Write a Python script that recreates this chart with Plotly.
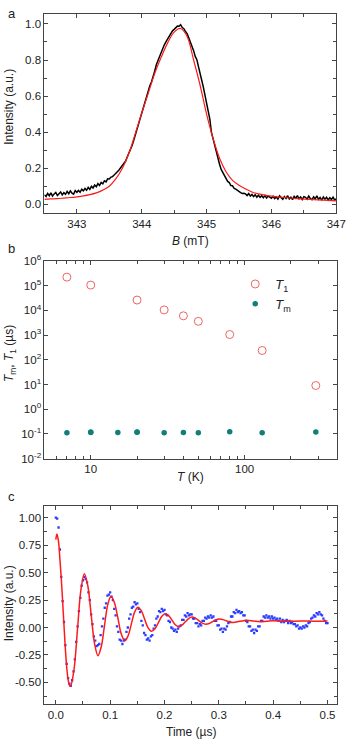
import plotly.graph_objects as go

# ---------------- Panel a: EPR spectrum ----------------
field_start = 342.5
field_step = 0.025
epr_signal = [
    0.052, 0.043, 0.060, 0.047, 0.063, 0.045, 0.057, 0.065, 0.048, 0.060, 0.068,
    0.052, 0.064, 0.055, 0.071, 0.058, 0.074, 0.061, 0.056, 0.076, 0.066,
    0.076, 0.066, 0.083, 0.074, 0.087, 0.077, 0.093, 0.082, 0.099, 0.090,
    0.106, 0.097, 0.114, 0.104, 0.121, 0.113, 0.130, 0.124, 0.141, 0.140,
    0.150, 0.153, 0.162, 0.170, 0.180, 0.190, 0.202, 0.212, 0.227, 0.238,
    0.260, 0.280, 0.302, 0.324, 0.352, 0.383, 0.412, 0.438, 0.468, 0.498,
    0.532, 0.558, 0.597, 0.618, 0.657, 0.678, 0.717, 0.738, 0.774, 0.798,
    0.822, 0.843, 0.867, 0.886, 0.902, 0.918, 0.937, 0.946, 0.962, 0.970,
    0.980, 0.988, 0.987, 0.996, 0.980, 0.974, 0.958, 0.947, 0.923, 0.902,
    0.873, 0.852, 0.820, 0.802, 0.763, 0.732, 0.688, 0.650, 0.608, 0.567,
    0.518, 0.472, 0.398, 0.362, 0.318, 0.282, 0.248, 0.222, 0.193, 0.177,
    0.158, 0.142, 0.126, 0.120, 0.103, 0.102, 0.088, 0.084, 0.076, 0.072,
    0.064, 0.060, 0.061, 0.057, 0.048, 0.059, 0.045, 0.054, 0.042, 0.052,
    0.039, 0.050, 0.038, 0.047, 0.036, 0.048, 0.034, 0.045, 0.037, 0.033,
    0.044, 0.031, 0.040, 0.028, 0.046, 0.034, 0.027, 0.042, 0.032, 0.047,
    0.029, 0.039, 0.025, 0.043, 0.033, 0.048, 0.030, 0.040, 0.026, 0.042,
    0.038, 0.028, 0.045, 0.031, 0.025, 0.041, 0.029, 0.047, 0.027, 0.037,
    0.022, 0.040, 0.028, 0.038, 0.024, 0.036, 0.026, 0.039, 0.023, 0.030,
]
fit_field = [342.5, 342.6, 342.7, 342.8, 342.9, 343.0, 343.1, 343.2, 343.3, 343.4,
             343.5, 343.6, 343.7, 343.8, 343.9, 344.0, 344.1, 344.2, 344.3, 344.4,
             344.5, 344.6, 344.7, 344.8, 344.9, 345.0, 345.1, 345.2, 345.3, 345.4,
             345.5, 345.6, 345.7, 345.8, 345.9, 346.0, 346.2, 346.4, 346.6, 346.8, 347.0]
fit_signal = [0.027, 0.029, 0.031, 0.034, 0.037, 0.041, 0.046, 0.053, 0.063, 0.078,
              0.100, 0.140, 0.198, 0.280, 0.390, 0.505, 0.615, 0.725, 0.815, 0.895,
              0.955, 0.975, 0.930, 0.800, 0.660, 0.500, 0.365, 0.255, 0.180, 0.132,
              0.105, 0.085, 0.068, 0.057, 0.050, 0.045, 0.037, 0.031, 0.026, 0.022, 0.018]

# ---------------- Panel b: relaxation times ----------------
temp_T1 = [7, 10, 20, 30, 40, 50, 80, 130, 290]
T1_us = [2.2e5, 1.05e5, 2.6e4, 1.04e4, 6.0e3, 3.6e3, 1.05e3, 238, 9.1]
temp_Tm = [7, 10, 10, 15, 20, 20, 30, 40, 50, 80, 130, 290]
Tm_us = [0.113, 0.115, 0.120, 0.114, 0.116, 0.120, 0.112, 0.114, 0.112, 0.122, 0.111, 0.120]
b_ytick_vals = [1e-2, 1e-1, 1e0, 1e1, 1e2, 1e3, 1e4, 1e5, 1e6]
b_ytick_text = ["10<sup>-2</sup>", "10<sup>-1</sup>", "10<sup>0</sup>", "10<sup>1</sup>",
                "10<sup>2</sup>", "10<sup>3</sup>", "10<sup>4</sup>", "10<sup>5</sup>",
                "10<sup>6</sup>"]
b_xtick_vals = [10, 100]
b_xtick_text = ["10", "100"]
b_xminor_vals = [5, 6, 7, 8, 9, 20, 30, 40, 50, 60, 70, 80, 90, 200, 300, 400]

# ---------------- Panel c: Rabi oscillation ----------------
time_start = 0.0
time_step = 0.0025
echo_signal = [
    1.00, 0.99, 0.91, 0.71, 0.46, 0.24, 0.05, -0.16, -0.33, -0.46,
    -0.51, -0.53, -0.48, -0.40, -0.29, -0.13, 0.01, 0.15, 0.27, 0.38,
    0.43, 0.46, 0.44, 0.41, 0.32, 0.25, 0.12, 0.03, -0.08, -0.12,
    -0.17, -0.16, -0.15, -0.07, 0.01, 0.08, 0.18, 0.22, 0.29, 0.30,
    0.32, 0.28, 0.25, 0.17, 0.11, 0.01, -0.04, -0.11, -0.12, -0.15,
    -0.12, -0.11, -0.04, 0.00, 0.08, 0.12, 0.18, 0.19, 0.23, 0.21,
    0.22, 0.17, 0.14, 0.06, 0.02, -0.05, -0.07, -0.11, -0.10, -0.12,
    -0.08, -0.07, -0.01, 0.02, 0.08, 0.10, 0.15, 0.14, 0.17, 0.15,
    0.16, 0.12, 0.11, 0.06, 0.05, 0.00, -0.01, -0.03, -0.02, -0.04,
    -0.01, 0.01, 0.02, 0.07, 0.07, 0.11, 0.10, 0.13, 0.11, 0.12,
    0.12, 0.08, 0.08, 0.04, 0.04, 0.01, 0.03, 0.02, 0.06, 0.06,
    0.09, 0.08, 0.10, 0.09, 0.11, 0.09, 0.10, 0.06, 0.06, 0.02,
    0.02, -0.02, -0.01, -0.04, -0.01, -0.02, 0.01, 0.04, 0.05, 0.10,
    0.10, 0.14, 0.13, 0.16, 0.14, 0.15, 0.13, 0.14, 0.11, 0.11,
    0.06, 0.05, 0.01, 0.01, -0.03, -0.02, -0.05, -0.02, -0.03, 0.01,
    0.01, 0.06, 0.06, 0.10, 0.09, 0.11, 0.09, 0.10, 0.08, 0.10,
    0.08, 0.09, 0.07, 0.08, 0.06, 0.08, 0.05, 0.07, 0.05, 0.06,
    0.07, 0.04, 0.06, 0.04, 0.05, 0.03, 0.03, 0.01, 0.02, -0.01,
    0.00, -0.01, 0.01, 0.00, 0.02, 0.01, 0.04, 0.05, 0.08, 0.09,
    0.11, 0.10, 0.13, 0.12, 0.14, 0.12, 0.11, 0.08, 0.06, 0.04,
    0.04,
]
fit_time = [0.0, 0.002, 0.005, 0.0075, 0.010, 0.0125, 0.015, 0.0175, 0.020, 0.0225,
            0.025, 0.027, 0.0334, 0.0398, 0.0461, 0.0525, 0.0588, 0.065, 0.0713, 0.0775,
            0.0835, 0.0895, 0.0955, 0.1015, 0.1079, 0.1143, 0.1206, 0.127, 0.133, 0.139,
            0.145, 0.151, 0.1573, 0.1635, 0.1698, 0.176, 0.1824, 0.1888, 0.1951, 0.2015,
            0.2076, 0.2138, 0.2199, 0.226, 0.2321, 0.2383, 0.2444, 0.2505, 0.2569, 0.2633,
            0.2696, 0.276, 0.2823, 0.2885, 0.2948, 0.301, 0.3073, 0.3135, 0.3198, 0.326,
            0.3385, 0.351, 0.3635, 0.376, 0.388, 0.40, 0.425, 0.45, 0.475, 0.50]
fit_echo = [0.80, 0.85, 0.78, 0.62, 0.45, 0.24, 0.02, -0.19, -0.36, -0.47,
            -0.525, -0.535, -0.385, -0.02, 0.34, 0.49, 0.38, 0.117, -0.147, -0.256,
            -0.177, 0.015, 0.206, 0.285, 0.226, 0.083, -0.061, -0.12, -0.075, 0.033,
            0.140, 0.185, 0.153, 0.075, -0.003, -0.035, -0.012, 0.045, 0.102, 0.125,
            0.108, 0.067, 0.025, 0.008, 0.021, 0.052, 0.082, 0.095, 0.085, 0.063,
            0.040, 0.030, 0.037, 0.054, 0.070, 0.077, 0.072, 0.062, 0.051, 0.046,
            0.056, 0.066, 0.059, 0.052, 0.057, 0.062, 0.056, 0.060, 0.058, 0.060]
c_ytick_vals = [-0.5, -0.25, 0.0, 0.25, 0.5, 0.75, 1.0]
c_ytick_text = ["-0.50", "-0.25", "0.00", "0.25", "0.50", "0.75", "1.00"]

# ---------------- figure ----------------
W, H = 357, 747
FONT = "Liberation Sans, Arial, sans-serif"
AXCOL = "#444444"


def px_x(p):
    return p / W


def px_y(p):
    return 1 - p / H


fig = go.Figure()

fig.add_trace(go.Scatter(x0=field_start, dx=field_step, y=epr_signal, mode="lines",
                         line=dict(color="black", width=1.5), showlegend=False,
                         xaxis="x", yaxis="y"))
fig.add_trace(go.Scatter(x=fit_field, y=fit_signal, mode="lines", line_shape="spline",
                         line=dict(color="#ff1a1a", width=1.2), showlegend=False,
                         xaxis="x", yaxis="y"))

fig.add_trace(go.Scatter(x=temp_T1, y=T1_us, mode="markers", name="<i>T</i><sub>1</sub>",
                         marker=dict(symbol="circle-open", size=8, color="#f06464",
                                     line=dict(width=1)),
                         xaxis="x2", yaxis="y2"))
fig.add_trace(go.Scatter(x=temp_Tm, y=Tm_us, mode="markers", name="<i>T</i><sub>m</sub>",
                         marker=dict(symbol="circle", size=5.5, color="#0f7f7a"),
                         xaxis="x2", yaxis="y2"))

fig.add_trace(go.Scatter(x0=time_start, dx=time_step, y=echo_signal, mode="markers",
                         marker=dict(symbol="square", size=2.3, color="#2a3cff"),
                         showlegend=False, xaxis="x3", yaxis="y3"))
fig.add_trace(go.Scatter(x=fit_time, y=fit_echo, mode="lines", line_shape="spline",
                         line=dict(color="#ff1a1a", width=1.5), showlegend=False,
                         xaxis="x3", yaxis="y3"))

common = dict(showline=True, linecolor=AXCOL, linewidth=1, mirror="allticks",
              ticks="inside", ticklen=4, tickcolor=AXCOL, tickwidth=1,
              showgrid=False, zeroline=False,
              tickfont=dict(family=FONT, size=11.5, color="#222222"))

xdom_a = [px_x(45.7), px_x(346)]
xdom_bc = [px_x(45.7), px_x(347)]

fig.update_layout(
    width=W, height=H,
    margin=dict(l=0, r=0, t=0, b=0),
    paper_bgcolor="white", plot_bgcolor="white",
    font=dict(family=FONT, size=12, color="#222222"),
    xaxis=dict(domain=xdom_a, anchor="y", range=[342.5, 347], dtick=1, tick0=343,
               minor=dict(dtick=0.5, ticks="inside", ticklen=3, tickcolor=AXCOL),
               **common),
    yaxis=dict(domain=[px_y(209.3), px_y(6)], anchor="x", range=[-0.051, 1.056],
               dtick=0.2, tick0=0, tickformat=".1f",
               minor=dict(dtick=0.1, ticks="inside", ticklen=3, tickcolor=AXCOL),
               **common),
    xaxis2=dict(domain=xdom_bc, anchor="y2", type="log", range=[0.699, 2.602],
                tickmode="array", tickvals=b_xtick_vals, ticktext=b_xtick_text,
                minor=dict(tickmode="array", tickvals=b_xminor_vals, ticks="inside",
                           ticklen=3, tickcolor=AXCOL),
                **common),
    yaxis2=dict(domain=[px_y(459.3), px_y(257.7)], anchor="x2", type="log", range=[-2, 6],
                tickmode="array", tickvals=b_ytick_vals, ticktext=b_ytick_text,
                **common),
    xaxis3=dict(domain=xdom_bc, anchor="y3", range=[-0.021, 0.518], dtick=0.1, tick0=0,
                tickformat=".1f",
                minor=dict(dtick=0.05, ticks="inside", ticklen=3, tickcolor=AXCOL),
                **common),
    yaxis3=dict(domain=[px_y(709.3), px_y(507.7)], anchor="x3", range=[-0.696, 1.104],
                tickmode="array", tickvals=c_ytick_vals, ticktext=c_ytick_text,
                minor=dict(dtick=0.125, tick0=0, ticks="inside", ticklen=3, tickcolor=AXCOL),
                **common),
    legend=dict(x=px_x(242), y=px_y(266), xanchor="left", yanchor="top",
                bgcolor="rgba(0,0,0,0)", font=dict(family=FONT, size=13, color="#222222"),
                itemwidth=30),
)

ann = [
    ("a", 12, 6, 0, 13),
    ("b", 12, 245, 0, 13),
    ("c", 12, 498, 0, 13),
    ("Intensity (a.u.)", 9, 101, -90, 12),
    ("<i>B</i> (mT)", 196, 237, 0, 12),
    ("<i>T</i><sub>m</sub>, <i>T</i><sub>1</sub> (µs)", 11, 352, -90, 12),
    ("<i>T</i> (K)", 196, 478, 0, 12),
    ("Intensity (a.u.)", 9, 607, -90, 12),
    ("Time (µs)", 196, 738, 0, 12),
]
for text, x, y, ang, size in ann:
    fig.add_annotation(text=text, x=px_x(x), y=px_y(y), xref="paper", yref="paper",
                       xanchor="center", yanchor="middle", showarrow=False,
                       textangle=ang, font=dict(family=FONT, size=size, color="#222222"))

fig.write_html("out.html", config={"displayModeBar": False},
               post_script="document.body.style.margin='0';document.body.style.padding='0';")
